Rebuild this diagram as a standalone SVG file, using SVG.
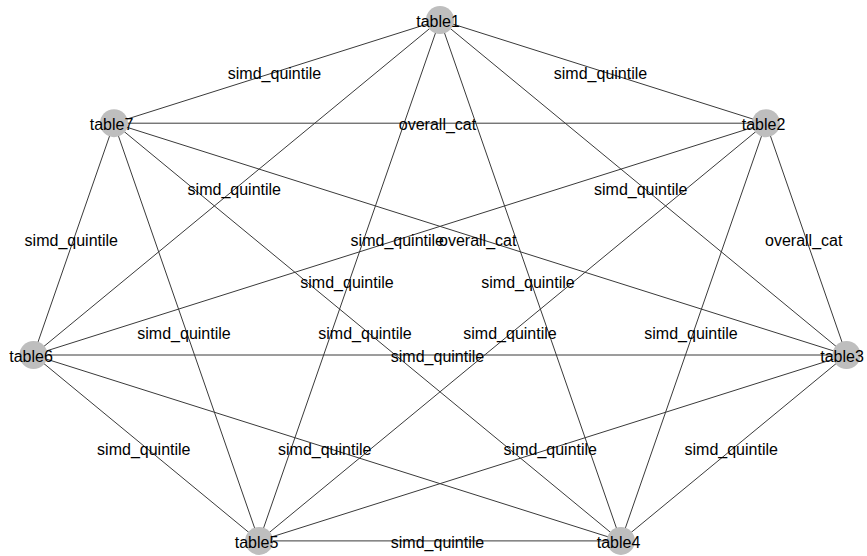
<svg xmlns="http://www.w3.org/2000/svg" width="867" height="556" viewBox="0 0 867 556">
  <style>
    .edge { stroke: #3a3a3a; stroke-width: 1; fill: none; }
    .node circle { fill: #bebebe; stroke: none; }
    text { font-family: "Liberation Sans", Arial, sans-serif; font-size: 16px; fill: #000; text-anchor: middle; dominant-baseline: central; }
  </style>
  <rect width="867" height="556" fill="#ffffff"/>

  <!-- connectors: complete graph between the seven tables -->
  <g id="edges">
    <line class="edge" x1="440" y1="20" x2="114" y2="123.2"/>
    <line class="edge" x1="440" y1="20" x2="766" y2="123.2"/>
    <line class="edge" x1="114" y1="123.2" x2="766" y2="123.2"/>
    <line class="edge" x1="114" y1="123.2" x2="846.5" y2="355"/>
    <line class="edge" x1="766" y1="123.2" x2="33.5" y2="355"/>
    <line class="edge" x1="766" y1="123.2" x2="846.5" y2="355"/>
    <line class="edge" x1="114" y1="123.2" x2="33.5" y2="355"/>
    <line class="edge" x1="440" y1="20" x2="33.5" y2="355"/>
    <line class="edge" x1="440" y1="20" x2="846.5" y2="355"/>
    <line class="edge" x1="114" y1="123.2" x2="620.9" y2="540.9"/>
    <line class="edge" x1="766" y1="123.2" x2="259.1" y2="540.9"/>
    <line class="edge" x1="440" y1="20" x2="259.1" y2="540.9"/>
    <line class="edge" x1="440" y1="20" x2="620.9" y2="540.9"/>
    <line class="edge" x1="114" y1="123.2" x2="259.1" y2="540.9"/>
    <line class="edge" x1="766" y1="123.2" x2="620.9" y2="540.9"/>
    <line class="edge" x1="33.5" y1="355" x2="846.5" y2="355"/>
    <line class="edge" x1="33.5" y1="355" x2="259.1" y2="540.9"/>
    <line class="edge" x1="33.5" y1="355" x2="620.9" y2="540.9"/>
    <line class="edge" x1="846.5" y1="355" x2="259.1" y2="540.9"/>
    <line class="edge" x1="846.5" y1="355" x2="620.9" y2="540.9"/>
    <line class="edge" x1="259.1" y1="540.9" x2="620.9" y2="540.9"/>
  </g>

  <!-- edge labels near the midpoint of each connector -->
  <g id="edge-labels" transform="translate(-2.5,1.5)">
    <text x="277" y="71.6">simd_quintile</text>
    <text x="603" y="71.6">simd_quintile</text>
    <text x="440" y="123.2">overall_cat</text>
    <text x="480.2" y="239.1">overall_cat</text>
    <text x="399.8" y="239.1">simd_quintile</text>
    <text x="806.2" y="239.1">overall_cat</text>
    <text x="73.8" y="239.1">simd_quintile</text>
    <text x="236.8" y="187.5">simd_quintile</text>
    <text x="643.2" y="187.5">simd_quintile</text>
    <text x="367.5" y="332">simd_quintile</text>
    <text x="512.5" y="332">simd_quintile</text>
    <text x="349.5" y="280.5">simd_quintile</text>
    <text x="530.5" y="280.5">simd_quintile</text>
    <text x="186.5" y="332">simd_quintile</text>
    <text x="693.5" y="332">simd_quintile</text>
    <text x="440" y="355">simd_quintile</text>
    <text x="146.3" y="448">simd_quintile</text>
    <text x="327.2" y="448">simd_quintile</text>
    <text x="552.8" y="448">simd_quintile</text>
    <text x="733.7" y="448">simd_quintile</text>
    <text x="440" y="540.9">simd_quintile</text>
  </g>

  <!-- nodes -->
  <g id="table1" class="node"><circle cx="440" cy="20" r="14"/><text x="438" y="21">table1</text></g>
  <g id="table2" class="node"><circle cx="766" cy="123.2" r="14"/><text x="763.5" y="124.5">table2</text></g>
  <g id="table3" class="node"><circle cx="846.5" cy="355" r="14"/><text x="842" y="356">table3</text></g>
  <g id="table4" class="node"><circle cx="620.9" cy="540.9" r="14"/><text x="618.5" y="542">table4</text></g>
  <g id="table5" class="node"><circle cx="259.1" cy="540.9" r="14"/><text x="256.5" y="542">table5</text></g>
  <g id="table6" class="node"><circle cx="33.5" cy="355" r="14"/><text x="31" y="356">table6</text></g>
  <g id="table7" class="node"><circle cx="114" cy="123.2" r="14"/><text x="111.5" y="124.5">table7</text></g>
</svg>
